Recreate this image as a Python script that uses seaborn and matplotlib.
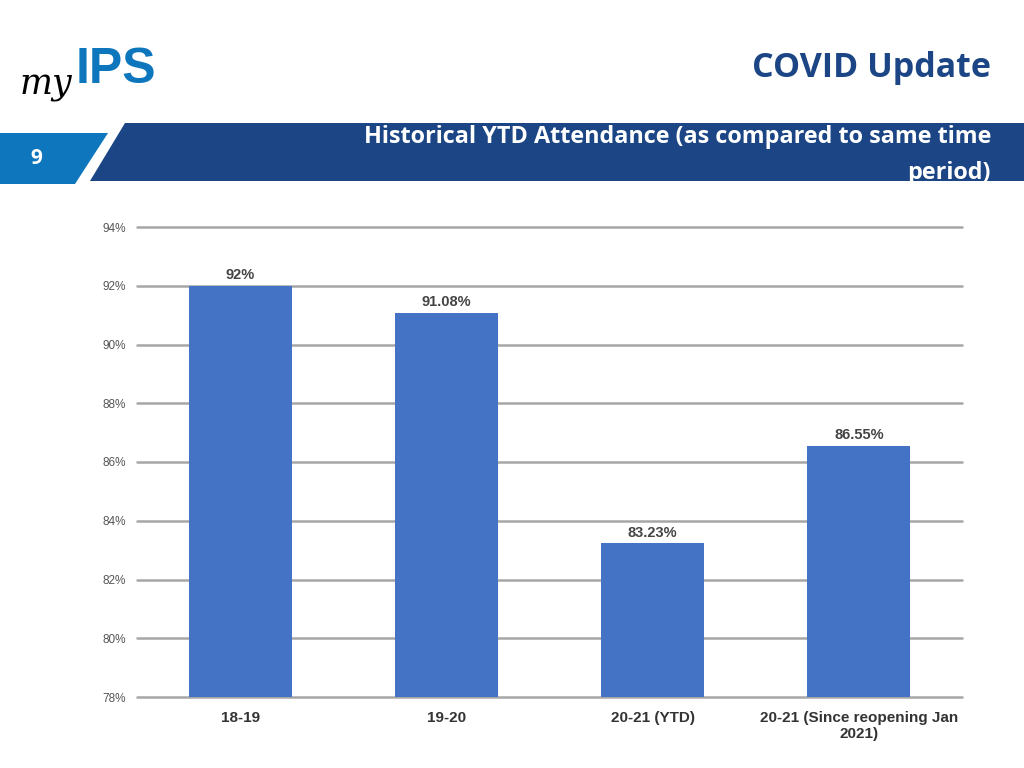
import matplotlib
matplotlib.use("Agg")
import matplotlib.pyplot as plt
import matplotlib.patches as mpatches
import seaborn as sns
import pandas as pd

# Chart data
years = ["18-19", "19-20", "20-21 (YTD)", "20-21 (Since reopening Jan\n2021)"]
attendance = [92.0, 91.08, 83.23, 86.55]
bar_labels = ["92%", "91.08%", "83.23%", "86.55%"]
yticks = [78, 80, 82, 84, 86, 88, 90, 92, 94]

df = pd.DataFrame({"Year": years, "Attendance": attendance})

sns.set_theme(style="white")
plt.rcParams["font.family"] = ["Liberation Sans", "DejaVu Sans"]

fig = plt.figure(figsize=(10.24, 7.68), dpi=100)
W, H = 1024, 768

# Header decorations (pixel coords -> figure fractions)
def px(x, y):
    return (x / W, 1 - y / H)

light_blue = "#0E76BC"
dark_blue = "#1B4584"
fig.patches.append(mpatches.Polygon([px(0, 133), px(108, 133), px(75, 184), px(0, 184)],
                                    closed=True, transform=fig.transFigure,
                                    facecolor=light_blue, edgecolor="none"))
fig.patches.append(mpatches.Polygon([px(125, 123), px(1024, 123), px(1024, 181), px(90, 181)],
                                    closed=True, transform=fig.transFigure,
                                    facecolor=dark_blue, edgecolor="none"))

fig.text(*px(36, 158), "9", color="white", fontsize=15, fontweight="bold",
         ha="center", va="center", family=["Open Sans", "DejaVu Sans"])
fig.text(*px(991, 68), "COVID Update", color=dark_blue, fontsize=24.5, fontweight="bold",
         ha="right", va="center", family=["Open Sans", "DejaVu Sans"])
fig.text(*px(991, 137), "Historical YTD Attendance (as compared to same time", color="white",
         fontsize=16.8, fontweight="bold", ha="right", va="center", family=["Open Sans", "DejaVu Sans"])
fig.text(*px(991, 173), "period)", color="white",
         fontsize=16.8, fontweight="bold", ha="right", va="center", family=["Open Sans", "DejaVu Sans"])

# Logo
fig.text(*px(20, 85), "my", color="black", fontsize=25, fontstyle="italic",
         ha="left", va="center", family=["DejaVu Serif"])
fig.text(*px(76, 70), "IPS", color=light_blue, fontsize=36, fontweight="heavy",
         ha="left", va="center", family=["Liberation Sans", "DejaVu Sans"])

# Chart
ax = fig.add_axes([137 / W, 1 - 697 / H, 825 / W, 470 / H])
sns.barplot(data=df, x="Year", y="Attendance", color="#4472C4", width=0.5,
            saturation=1, linewidth=0, ax=ax, zorder=3)

ax.set_ylim(78, 94)
ax.set_xlim(-0.5, 3.5)
ax.set_yticks(yticks)
ax.set_yticklabels([f"{t}%" for t in yticks], fontsize=8.5, color="#555555")
ax.yaxis.grid(True, color="#A6A6A6", linewidth=1.8, zorder=0)
for gl in ax.get_ygridlines():
    gl.set_clip_on(False)
ax.set_axisbelow(True)
for s in ax.spines.values():
    s.set_visible(False)
ax.tick_params(axis="y", length=0, pad=8)
ax.tick_params(axis="x", length=0, pad=10)
ax.set_xticklabels(years, fontsize=11, color="#333333", fontweight="bold")
ax.set_xlabel("")
ax.set_ylabel("")

for i, (v, lab) in enumerate(zip(attendance, bar_labels)):
    ax.text(i, v + 0.12, lab, ha="center", va="bottom", fontsize=10.5,
            fontweight="bold", color="#444444")

fig.savefig("out.png", dpi=100)
